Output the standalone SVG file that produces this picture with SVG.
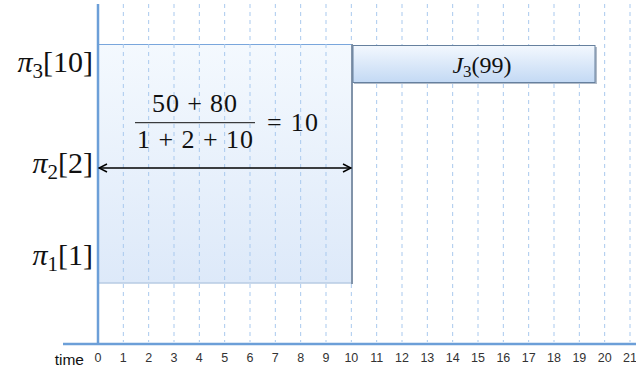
<svg xmlns="http://www.w3.org/2000/svg" width="636" height="374" viewBox="0 0 636 374">
<defs>
<linearGradient id="gBig" x1="0" y1="0" x2="0" y2="1">
<stop offset="0" stop-color="#f4f9fe"/>
<stop offset="1" stop-color="#dde9f9"/>
</linearGradient>
<linearGradient id="gJ" x1="0" y1="0" x2="0" y2="1">
<stop offset="0" stop-color="#f3f8fe"/>
<stop offset="1" stop-color="#c3d9f4"/>
</linearGradient>
<marker id="ah" viewBox="0 0 10 10" refX="9" refY="5" markerWidth="10" markerHeight="10" markerUnits="userSpaceOnUse" orient="auto-start-reverse">
<path d="M1,1 L9,5 L1,9" fill="none" stroke="#000" stroke-width="1.5"/>
</marker>
</defs>
<style>
.grid line{stroke:#a9c9ee;stroke-width:1;stroke-dasharray:4 4}
.axis{stroke:#6c9fd8;stroke-width:2.5;fill:none}
.tick{font-size:12.5px;fill:#333;text-anchor:middle}
.math{fill:#111}
</style>
<rect width="636" height="374" fill="#fff"/>
<g id="box-pi">
<rect x="98" y="44" width="254" height="239" fill="url(#gBig)"/>
<line x1="98" y1="44.5" x2="352" y2="44.5" stroke="#79a6dc" stroke-width="1.2"/>
<line x1="98" y1="283" x2="352" y2="283" stroke="#b7cbe3" stroke-width="1.5"/>
<line x1="352" y1="44" x2="352" y2="284" stroke="#8193a9" stroke-width="2"/>
</g>
<g class="grid" id="grid">
<line x1="123.33" y1="4" x2="123.33" y2="342"/>
<line x1="148.67" y1="4" x2="148.67" y2="342"/>
<line x1="174" y1="4" x2="174" y2="342"/>
<line x1="199.33" y1="4" x2="199.33" y2="342"/>
<line x1="224.67" y1="4" x2="224.67" y2="342"/>
<line x1="250" y1="4" x2="250" y2="342"/>
<line x1="275.33" y1="4" x2="275.33" y2="342"/>
<line x1="300.67" y1="4" x2="300.67" y2="342"/>
<line x1="326" y1="4" x2="326" y2="342"/>
<line x1="351.33" y1="4" x2="351.33" y2="44"/>
<line x1="351.33" y1="284" x2="351.33" y2="342"/>
<line x1="376.67" y1="4" x2="376.67" y2="342"/>
<line x1="402" y1="4" x2="402" y2="342"/>
<line x1="427.33" y1="4" x2="427.33" y2="342"/>
<line x1="452.67" y1="4" x2="452.67" y2="342"/>
<line x1="478" y1="4" x2="478" y2="342"/>
<line x1="503.33" y1="4" x2="503.33" y2="342"/>
<line x1="528.67" y1="4" x2="528.67" y2="342"/>
<line x1="554" y1="4" x2="554" y2="342"/>
<line x1="579.33" y1="4" x2="579.33" y2="342"/>
<line x1="604.67" y1="4" x2="604.67" y2="342"/>
<line x1="630" y1="4" x2="630" y2="342"/>
</g>
<g id="box-j3">
<rect x="354" y="47" width="243" height="37" fill="#7d8ea3" opacity="0.6"/>
<rect x="353" y="45.5" width="242" height="37" fill="url(#gJ)" stroke="#66809e" stroke-width="1"/>
<text class="math" x="482" y="73" font-family="Liberation Serif, serif" font-size="24" text-anchor="middle"><tspan font-style="italic">J</tspan><tspan font-size="17" dy="4">3</tspan><tspan dy="-4">(99)</tspan></text>
</g>
<g id="axes">
<line class="axis" x1="98" y1="4" x2="98" y2="345"/>
<line class="axis" x1="63" y1="344" x2="636" y2="344"/>
</g>
<g id="ticks" font-family="Liberation Sans, Arial, sans-serif">
<text class="tick" x="98" y="362">0</text>
<text class="tick" x="123.33" y="362">1</text>
<text class="tick" x="148.67" y="362">2</text>
<text class="tick" x="174" y="362">3</text>
<text class="tick" x="199.33" y="362">4</text>
<text class="tick" x="224.67" y="362">5</text>
<text class="tick" x="250" y="362">6</text>
<text class="tick" x="275.33" y="362">7</text>
<text class="tick" x="300.67" y="362">8</text>
<text class="tick" x="326" y="362">9</text>
<text class="tick" x="351.33" y="362">10</text>
<text class="tick" x="376.67" y="362">11</text>
<text class="tick" x="402" y="362">12</text>
<text class="tick" x="427.33" y="362">13</text>
<text class="tick" x="452.67" y="362">14</text>
<text class="tick" x="478" y="362">15</text>
<text class="tick" x="503.33" y="362">16</text>
<text class="tick" x="528.67" y="362">17</text>
<text class="tick" x="554" y="362">18</text>
<text class="tick" x="579.33" y="362">19</text>
<text class="tick" x="604.67" y="362">20</text>
<text class="tick" x="630" y="362">21</text>
<text x="84" y="365" font-size="15.5" fill="#111" text-anchor="end">time</text>
</g>
<g id="labels" font-family="Liberation Serif, serif">
<text class="math" x="93" y="72" font-size="30" text-anchor="end"><tspan font-style="italic">π</tspan><tspan font-size="21" dy="6">3</tspan><tspan dy="-6">[10]</tspan></text>
<text class="math" x="93" y="173" font-size="30" text-anchor="end"><tspan font-style="italic">π</tspan><tspan font-size="21" dy="6">2</tspan><tspan dy="-6">[2]</tspan></text>
<text class="math" x="93" y="265" font-size="30" text-anchor="end"><tspan font-style="italic">π</tspan><tspan font-size="21" dy="6">1</tspan><tspan dy="-6">[1]</tspan></text>
</g>
<g id="formula" font-family="Liberation Serif, serif">
<text class="math" x="152" y="112" font-size="26" textLength="85" lengthAdjust="spacing">50 + 80</text>
<line x1="135" y1="122.7" x2="255" y2="122.7" stroke="#111" stroke-width="1"/>
<text class="math" x="137" y="148" font-size="26" textLength="116" lengthAdjust="spacing">1 + 2 + 10</text>
<text class="math" x="267" y="131" font-size="26" textLength="51" lengthAdjust="spacing">= 10</text>
</g>
<g id="connectors">
<line x1="99" y1="168" x2="351" y2="168" stroke="#000" stroke-width="1.5" marker-start="url(#ah)" marker-end="url(#ah)"/>
</g>
</svg>
